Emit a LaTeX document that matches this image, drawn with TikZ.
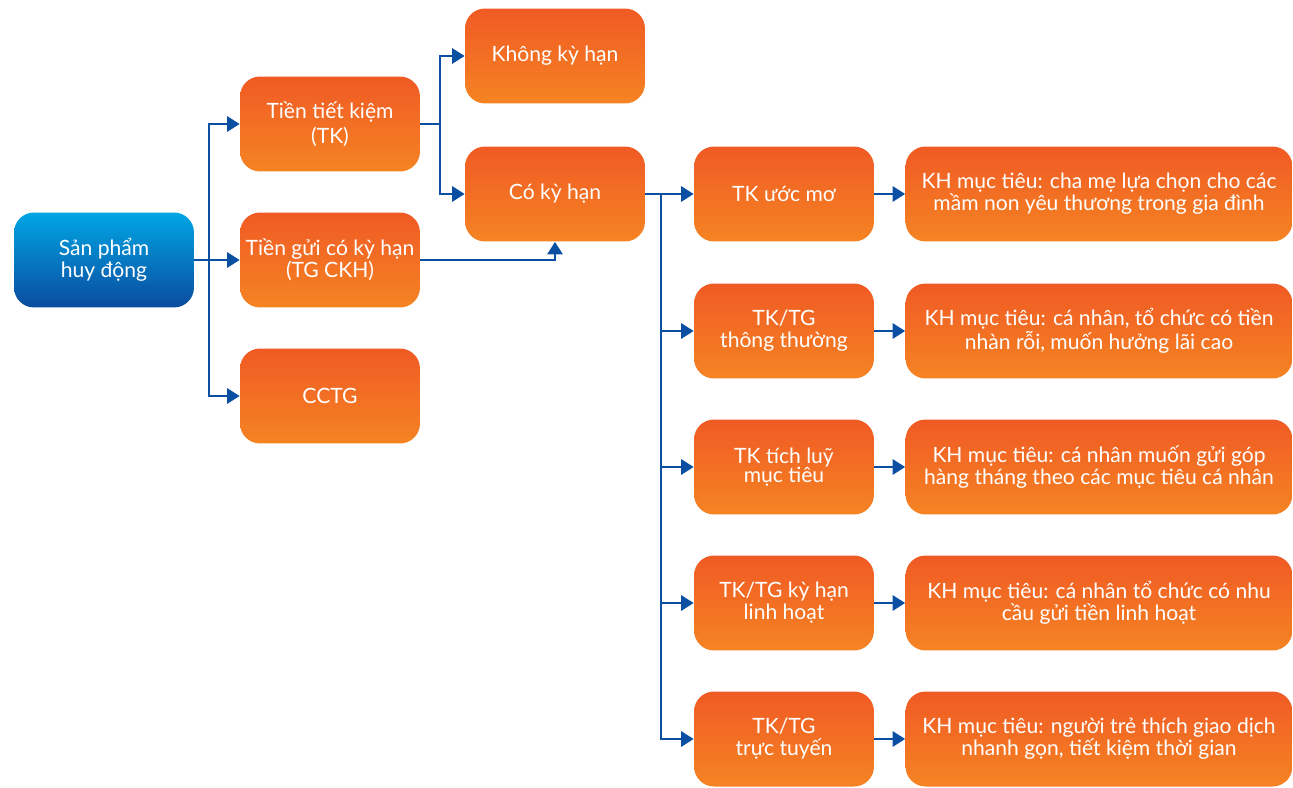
\documentclass[tikz,border=0pt]{standalone}
\usepackage{fontspec}
\setmainfont{Lato}
\usetikzlibrary{arrows.meta}
\definecolor{orTop}{HTML}{F05A24}
\definecolor{orBot}{HTML}{F58423}
\definecolor{blTop}{HTML}{00A6E4}
\definecolor{blBot}{HTML}{0B4C9F}
\definecolor{lineBlue}{HTML}{0B4FA3}
\begin{document}
\begin{tikzpicture}[x=0.02cm,y=-0.02cm,
  box/.style={rounded corners=0.4cm, minimum height=1.9cm, align=center,
    text=white, font=\fontsize{12}{12.5}\selectfont, inner sep=2pt},
  orbox/.style={box, top color=orTop, bottom color=orBot, minimum width=3.6cm},
  blbox/.style={box, top color=blTop, bottom color=blBot, minimum width=3.6cm},
  widebox/.style={orbox, minimum width=7.74cm},
  link/.style={draw=lineBlue, line width=1.6pt},
  arr/.style={link, -{Triangle[length=0.25cm,width=0.3cm]}}]
\useasboundingbox (0,0) rectangle (1293,787);

% first level
\node[blbox] (sp) at (104,260) {Sản phẩm\\huy động};
\node[orbox, font=\fontsize{12}{14}\selectfont] (tk) at (330,124) {\raisebox{0pt}{Tiền tiết kiệm}\\(TK)};
\node[orbox] (tg) at (330,260) {Tiền gửi có kỳ hạn\\(TG CKH)};
\node[orbox] (cctg) at (330,396) {CCTG};

% term types
\node[orbox] (kkh) at (555,56) {Không kỳ hạn};
\node[orbox] (ckh) at (555,194) {Có kỳ hạn};

% products
\node[orbox] (p1) at (784,194) {TK ước mơ};
\node[orbox] (p2) at (784,331) {TK/TG\\thông thường};
\node[orbox, font=\fontsize{12}{11}\selectfont] (p3) at (784,467) {TK tích luỹ\\mục tiêu};
\node[orbox] (p4) at (784,603) {TK/TG kỳ hạn\\linh hoạt};
\node[orbox] (p5) at (784,739) {TK/TG\\trực tuyến};

% target customers
\node[widebox] (c1) at (1099,194) {KH mục tiêu: cha mẹ lựa chọn cho các\\mầm non yêu thương trong gia đình};
\node[widebox] (c2) at (1099,331) {KH mục tiêu: cá nhân, tổ chức có tiền\\nhàn rỗi, muốn hưởng lãi cao};
\node[widebox] (c3) at (1099,467) {KH mục tiêu: cá nhân muốn gửi góp\\hàng tháng theo các mục tiêu cá nhân};
\node[widebox] (c4) at (1099,603) {KH mục tiêu: cá nhân tổ chức có nhu\\cầu gửi tiền linh hoạt};
\node[widebox] (c5) at (1099,739) {KH mục tiêu: người trẻ thích giao dịch\\nhanh gọn, tiết kiệm thời gian};

% junctions
\coordinate (j1) at (209,260);
\coordinate (j2) at (440,124);
\coordinate (j3) at (661,194);

% connectors
\draw[link] (sp.east) -- (j1);
\draw[arr] (j1) |- (tk.west);
\draw[arr] (j1) -- (tg.west);
\draw[arr] (j1) |- (cctg.west);

\draw[link] (tk.east) -- (j2);
\draw[arr] (j2) |- (kkh.west);
\draw[arr] (j2) |- (ckh.west);

\draw[arr] (tg.east) -| (ckh.south);

\draw[link] (ckh.east) -- (j3);
\draw[arr] (j3) -- (p1.west);
\draw[arr] (j3) |- (p2.west);
\draw[arr] (j3) |- (p3.west);
\draw[arr] (j3) |- (p4.west);
\draw[arr] (j3) |- (p5.west);

\draw[arr] (p1.east) -- (c1.west);
\draw[arr] (p2.east) -- (c2.west);
\draw[arr] (p3.east) -- (c3.west);
\draw[arr] (p4.east) -- (c4.west);
\draw[arr] (p5.east) -- (c5.west);
\end{tikzpicture}
\end{document}
